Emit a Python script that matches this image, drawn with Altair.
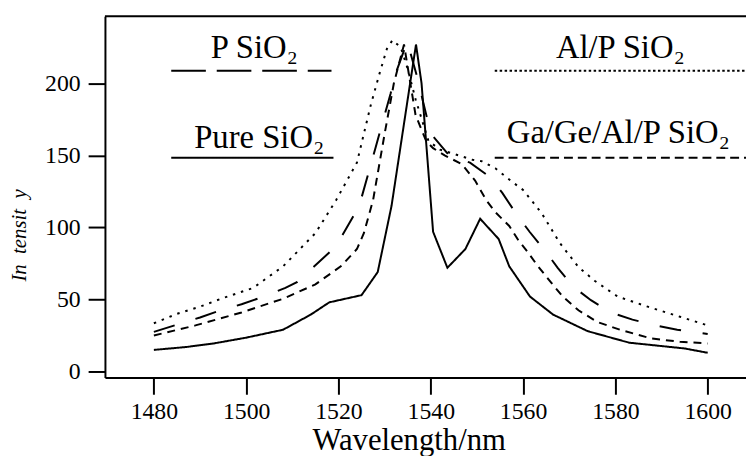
import altair as alt
import pandas as pd

# ---- data ----
series_names = ["Pure SiO₂", "P SiO₂", "Al/P SiO₂", "Ga/Ge/Al/P SiO₂"]

wl_pure = [1480, 1487, 1493, 1500, 1508, 1514, 1518, 1525, 1528.5, 1531.5, 1536.8, 1538, 1540.5,
           1543.6, 1547.5, 1550.7, 1554.7, 1557, 1561.5, 1566.5, 1574, 1583, 1595, 1600]
int_pure = [15, 17, 19.5, 23.5, 29, 39.5, 48, 53, 69, 115, 227, 200, 97,
            72, 85, 106, 92, 73, 52, 39.5, 28, 20, 16, 13]

wl_p = [1480, 1485, 1490, 1494, 1499, 1503.5, 1508.5, 1511, 1519.5, 1524.5, 1528, 1531.3, 1532.4,
        1534.9, 1537, 1540, 1544, 1548.5, 1552.8, 1555.5, 1558.6, 1561.4, 1564.7, 1567.5, 1570.8,
        1574.7, 1579, 1583.7, 1588.8, 1593.4, 1600]
int_p = [27.5, 32.5, 37.5, 42, 46.7, 51.7, 58, 62, 87, 115, 155, 193, 207,
         229, 205, 165, 150, 145, 135, 124, 109, 97, 84, 72, 59,
         49.5, 41, 36, 32, 29, 26]

wl_alp = [1480, 1485, 1490, 1495, 1501.5, 1508, 1515, 1519.5, 1524, 1527, 1529, 1530.5, 1531.7,
          1533.5, 1535, 1536.7, 1539.5, 1542, 1549, 1551, 1554, 1557.5, 1560, 1564, 1568, 1572,
          1575.5, 1580.5, 1587, 1594, 1600]
int_alp = [33.5, 40, 45, 51, 58, 73, 96, 119, 145, 185, 208, 224, 230,
           225, 210, 189, 160, 154, 147, 146, 141, 132, 126, 110, 89, 72.5,
           63, 52, 45, 38, 32]

wl_ga = [1480, 1489, 1499, 1508, 1515, 1520.5, 1524, 1525.5, 1527.5, 1530, 1532, 1534.2, 1536.7,
         1539, 1540.5, 1543, 1546.7, 1549.6, 1552, 1554, 1557, 1559, 1561, 1563, 1566, 1568.6,
         1572, 1576, 1581, 1587.7, 1594, 1600]
int_ga = [25, 32, 41, 50.5, 60.5, 73, 85, 96, 119, 165, 200, 227, 178,
          160, 155, 150, 144, 132.5, 119, 110.5, 101, 91, 83, 74, 62, 52,
          42.5, 34.5, 29, 23, 20.6, 19.5]

x_ticks = [1480, 1500, 1520, 1540, 1560, 1580, 1600]
y_ticks = [0, 50, 100, 150, 200]

# ---- build table ----
rows = []
for name, wl, iy in zip(series_names, [wl_pure, wl_p, wl_alp, wl_ga],
                        [int_pure, int_p, int_alp, int_ga]):
    for a, b in zip(wl, iy):
        rows.append({"series": name, "wavelength": a, "intensity": b})
df = pd.DataFrame(rows)

FONT = "Liberation Serif"
W, H = 648, 365

curve_dash = [[1, 0], [22, 22], [2.5, 6], [8, 6]]

curves = alt.Chart(df).mark_line(color="black", strokeWidth=2, strokeCap="butt").encode(
    x=alt.X("wavelength:Q",
            scale=alt.Scale(domain=[1469.4, 1608.3], nice=False, zero=False),
            axis=alt.Axis(values=x_ticks, title="Wavelength/nm", grid=False,
                          labelFont=FONT, titleFont=FONT,
                          labelFontSize=24, titleFontSize=31, labelPadding=6,
                          titlePadding=2, titleX=307, format="d")),
    y=alt.Y("intensity:Q",
            scale=alt.Scale(domain=[-4.1, 246.5], nice=False, zero=False),
            axis=alt.Axis(values=y_ticks, title="In\u2002tensit\u2002y", grid=False,
                          labelFont=FONT, titleFont=FONT,
                          labelFontSize=24, titleFontSize=21, titleFontStyle="italic",
                          titleFontWeight="normal", labelPadding=8,
                          titleX=-86, titleY=221, titleAlign="center",
                          titleBaseline="middle")),
    strokeDash=alt.StrokeDash("series:N",
                              scale=alt.Scale(domain=series_names, range=curve_dash),
                              legend=None),
    detail="series:N",
)

dummy = pd.DataFrame({"d": [0]})
layers = [curves]

# top border
layers.append(alt.Chart(dummy).mark_rule(color="black", strokeWidth=2).encode(
    x=alt.value(0), x2=alt.value(W), y=alt.value(0)))

# legend samples (label, text x, text y, line x1, x2, y, dash)
legend_items = [
    ("P SiO₂", 151, 42, 67, 229, 55, [35, 11]),
    ("Pure SiO₂", 156, 133, 67, 231, 143, [1, 0]),
    ("Al/P SiO₂", 521, 42, 394, 648, 55, [2.5, 2.5]),
    ("Ga/Ge/Al/P SiO₂", 519, 128, 394, 648, 143, [9, 5]),
]
for lab, tx, ty, x1, x2, ly, dash in legend_items:
    layers.append(alt.Chart(dummy).mark_rule(color="black", strokeWidth=2,
                                             strokeDash=dash, strokeCap="butt").encode(
        x=alt.value(x1), x2=alt.value(x2), y=alt.value(ly)))
    layers.append(alt.Chart(dummy).mark_text(text=lab, font=FONT, fontSize=33,
                                             align="center", baseline="alphabetic",
                                             color="black").encode(
        x=alt.value(tx), y=alt.value(ty)))

chart = alt.layer(*layers).properties(
    width=W, height=H,
    autosize=alt.AutoSizeParams(type="none"),
    padding={"left": 98, "top": 6, "right": 0, "bottom": 77},
).configure_view(stroke=None).configure_axis(
    labelFont=FONT, titleFont=FONT, domainColor="black", domainWidth=2,
    tickColor="black", tickWidth=2, tickSize=17, labelColor="black",
    titleColor="black", titleFontWeight="normal",
)

chart.save("out.html", embed_options={"renderer": "svg", "actions": False})
